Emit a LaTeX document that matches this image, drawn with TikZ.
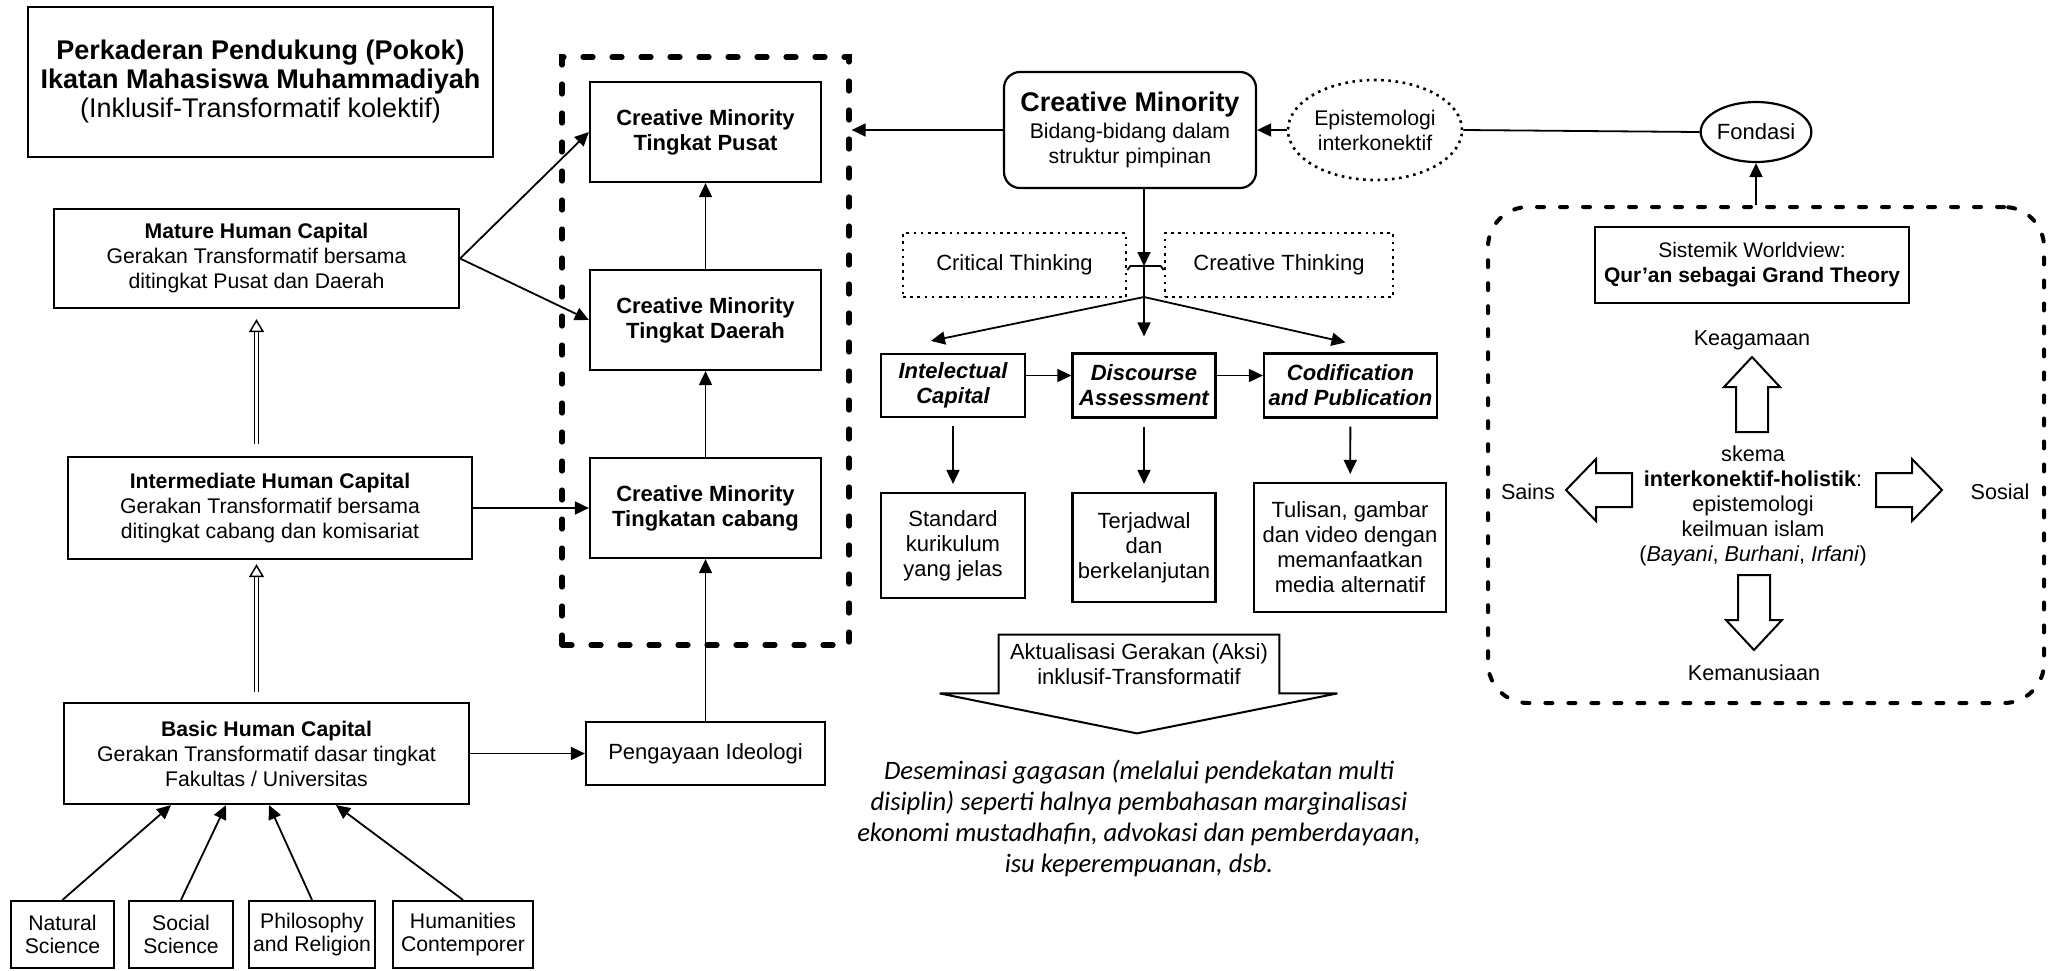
\documentclass[tikz,border=0pt]{standalone}
\usepackage{fontspec}
\setmainfont{Liberation Sans}
\newfontfamily\calibri{Carlito}
\usepackage{tikz}
\usetikzlibrary{shapes,arrows.meta,positioning,calc}

\tikzset{
  box/.style={draw, line width=1.1pt, align=center, inner sep=1pt,
    font=\fontsize{11}{12.5}\selectfont},
  leftbox/.style={box, font=\fontsize{10.6}{12.5}\selectfont},
  cmbox/.style={box, font=\fontsize{11}{12.5}\selectfont\bfseries},
  dotbox/.style={draw, line width=1.3pt, dash pattern=on 1.3pt off 2.3pt,
    align=center, font=\fontsize{11}{12.5}\selectfont},
  bigdash/.style={draw, line width=2.6pt, line cap=round, dash pattern=on 5pt off 9.5pt},
  rounddash/.style={draw, line width=2pt, line cap=round, dash pattern=on 3.5pt off 8pt,
    rounded corners=20pt},
  txt/.style={align=center, font=\fontsize{10.8}{12.5}\selectfont},
  arr/.style={line width=0.9pt, -{Triangle[length=7pt,width=6.5pt]}},
  hollow/.style={double, double distance=1.4pt, line width=0.75pt,
    -{Triangle[open,length=6.5pt,width=7.5pt]}},
  blockarr/.style={line width=1pt, line join=miter}
}

\begin{document}
\begin{tikzpicture}[x=0.5pt, y=-0.5pt]
\useasboundingbox (0,0) rectangle (2055,970);

% Left column
\node[box, font=\fontsize{13.5}{14.5}\selectfont, minimum width=232.5pt, minimum height=75pt] (title) at (260.5,82)
  {\textbf{Perkaderan Pendukung (Pokok)}\\\textbf{Ikatan Mahasiswa Muhammadiyah}\\(Inklusif-Transformatif kolektif)};
\node[leftbox, minimum width=202.5pt, minimum height=49.5pt] (mature) at (256.5,258.5)
  {\textbf{Mature Human Capital}\\Gerakan Transformatif bersama\\ditingkat Pusat dan Daerah};
\node[leftbox, minimum width=202pt, minimum height=51pt] (inter) at (270,508)
  {\textbf{Intermediate Human Capital}\\Gerakan Transformatif bersama\\ditingkat cabang dan komisariat};
\node[leftbox, minimum width=202.5pt, minimum height=50.5pt] (basic) at (266.5,753.5)
  {\textbf{Basic Human Capital}\\Gerakan Transformatif dasar tingkat\\Fakultas / Universitas};

% Disciplines
\node[leftbox, font=\fontsize{10.6}{11.5}\selectfont, minimum width=51.5pt, minimum height=33.5pt] (natural) at (62.5,934.5) {Natural\\Science};
\node[leftbox, font=\fontsize{10.6}{11.5}\selectfont, minimum width=52pt, minimum height=33.5pt] (social) at (181,934.5) {Social\\Science};
\node[leftbox, font=\fontsize{10.6}{11.5}\selectfont, minimum width=63pt, minimum height=33.5pt] (philo) at (312,934.5) {Philosophy\\and Religion};
\node[leftbox, font=\fontsize{10.6}{11.5}\selectfont, minimum width=70pt, minimum height=33.5pt] (human) at (463,934.5) {Humanities\\Contemporer};

\draw[arr] (natural.north) -- ($(basic.south)+(-95.5,0)$);
\draw[arr] (social.north) -- ($(basic.south)+(-40.5,0)$);
\draw[arr] (philo.north) -- ($(basic.south)+(2.5,0)$);
\draw[arr] (human.north) -- ($(basic.south)+(69.5,0)$);

\draw[hollow, shorten <=5pt, shorten >=2pt] (mature.south |- basic.north) -- (mature.south |- inter.south);
\draw[hollow, shorten <=6pt, shorten >=5pt] (mature.south |- inter.north) -- (mature.south);

% Creative minority levels
\node[bigdash, minimum width=143.5pt, minimum height=294pt] (group) at (705.5,351) {};
\node[cmbox, minimum width=115.5pt, minimum height=50pt] (pusat) at (705.5,132) {Creative Minority\\Tingkat Pusat};
\node[cmbox, minimum width=115.5pt, minimum height=50pt] (daerah) at (705.5,320) {Creative Minority\\Tingkat Daerah};
\node[cmbox, minimum width=115.5pt, minimum height=50pt] (cabang) at (705.5,508) {Creative Minority\\Tingkatan cabang};
\node[box, minimum width=119.5pt, minimum height=31.5pt] (ideo) at (705.5,753.5) {Pengayaan Ideologi};

\draw[arr] (mature.east) -- (pusat.west);
\draw[arr] (mature.east) -- (daerah.west);
\draw[arr] (inter.east) -- (cabang.west);
\draw[arr] (basic.east) -- (ideo.west);
\draw[arr] (ideo) -- (cabang);
\draw[arr] (cabang) -- (daerah);
\draw[arr] (daerah) -- (pusat);

% Creative minority structure
\node[box, font=\fontsize{10.6}{12.5}\selectfont, rounded corners=8pt, minimum width=126pt, minimum height=58pt] (cm) at (1130,130)
  {{\fontsize{13.5}{15}\selectfont\bfseries Creative Minority}\\[1pt]Bidang-bidang dalam\\struktur pimpinan};
\node[dotbox, font=\fontsize{10.6}{12.5}\selectfont, ellipse, inner sep=0pt, minimum width=87pt, minimum height=50pt] (epi) at (1375,130) {Epistemologi\\interkonektif};
\node[box, ellipse, inner sep=0pt, minimum width=55pt, minimum height=30pt] (fondasi) at (1756,132) {Fondasi};

\draw[arr] (cm.west) -- (cm.west -| group.east);
\draw[arr] (epi.west) -- (cm.east);
\draw[line width=0.9pt] (fondasi.west) -- (epi.east);

\node[dotbox, minimum width=111.5pt, minimum height=32pt] (crit) at (1014.5,265) {Critical Thinking};
\node[dotbox, minimum width=114pt, minimum height=32pt] (creat) at (1279,265) {Creative Thinking};
\coordinate (bar) at (1144,266);
\coordinate (split) at (1144,297);

\draw[line width=0.9pt] ($(crit.east)+(0,5)$) -- ($(crit.east)+(3,1)$) -- ($(creat.west)+(-3,1)$) -- ($(creat.west)+(0,5)$);
\draw[arr] (cm.south -| bar) -- (bar);
\draw[line width=0.9pt] (bar) -- (split);

\node[box, font=\fontsize{11}{12.5}\selectfont\bfseries\itshape, minimum width=72pt, minimum height=31.5pt] (intel) at (953,385.5) {Intelectual\\Capital};
\node[box, font=\fontsize{11}{12.5}\selectfont\bfseries\itshape, minimum width=71.5pt, minimum height=32pt] (disc) at (1144,385.5) {Discourse\\Assessment};
\node[box, font=\fontsize{11}{12.5}\selectfont\bfseries\itshape, minimum width=86.5pt, minimum height=32pt] (cod) at (1350.5,385.5) {Codification\\and Publication};

\draw[arr] (split) -- ([xshift=-11pt,yshift=6pt]intel.north);
\draw[arr] (split) -- ($(split |- disc.north)+(0,-16)$);
\draw[arr] (split) -- ([xshift=-2.5pt,yshift=5pt]cod.north);
\draw[arr] ([yshift=5pt]intel.east) -- ([yshift=5pt]disc.west);
\draw[arr] ([yshift=5pt]disc.east) -- ([yshift=5pt]cod.west);

\node[box, minimum width=72pt, minimum height=52.5pt] (std) at (953,545.5) {Standard\\kurikulum\\yang jelas};
\node[box, minimum width=71.5pt, minimum height=54.5pt] (jadwal) at (1144,547.5) {Terjadwal\\dan\\berkelanjutan};
\node[box, minimum width=96pt, minimum height=64.5pt] (tulis) at (1350,547.5) {Tulisan, gambar\\dan video dengan\\memanfaatkan\\media alternatif};

\draw[arr, shorten <=4pt, shorten >=4pt] (intel) -- (std);
\draw[arr, shorten <=4pt, shorten >=4pt] (disc) -- (jadwal);
\draw[arr, shorten <=4pt, shorten >=4pt] (cod) -- (tulis);

% Action arrow
\node[align=center, font=\fontsize{11}{12.5}\selectfont, minimum width=140pt, minimum height=29pt] (akt) at (1139,664) {Aktualisasi Gerakan (Aksi)\\inklusif-Transformatif};
\draw[line width=1pt] (akt.south west) -- (akt.north west) -- (akt.north east) -- (akt.south east)
  -- ++(58,0) -- ($(akt.south)+(-2,40)$) -- ($(akt.south west)+(-59,0)$) -- cycle;

\node[align=center, font=\calibri\itshape\fontsize{13.3}{15.5}\selectfont] (desem) at (1139,818)
  {Deseminasi gagasan (melalui pendekatan multi\\disiplin) seperti halnya pembahasan marginalisasi\\ekonomi mustadhafin, advokasi dan pemberdayaan,\\isu keperempuanan, dsb.};

% Foundation
\node[rounddash, minimum width=278pt, minimum height=248pt] (found) at (1766,455) {};
\draw[arr] (fondasi.south |- found.north) -- (fondasi.south);

\node[box, font=\fontsize{10.5}{12.5}\selectfont, minimum width=157pt, minimum height=38pt] (sist) at (1752,265) {Sistemik Worldview:\\\textbf{Qur’an sebagai Grand Theory}};
\node[txt] (keag) at (1752,340) {Keagamaan};
\node[txt] (sains) at (1528,492) {Sains};
\node[txt] (sosial) at (2000,492) {Sosial};
\node[txt] (kemanus) at (1754,673) {Kemanusiaan};
\node[txt] (skema) at (1753,506) {skema\\\textbf{interkonektif-holistik}:\\epistemologi\\keilmuan islam\\(\textit{Bayani}, \textit{Burhani}, \textit{Irfani})};

% Block arrows
\draw[blockarr] (1736,432) -- (1736,387) -- (1724,387) -- (1752,357) -- (1780,387) -- (1768,387) -- (1768,432) -- cycle;
\draw[blockarr] (1738,575) -- (1738,620) -- (1726,620) -- (1754,650) -- (1782,620) -- (1770,620) -- (1770,575) -- cycle;
\draw[blockarr] (1632,473) -- (1596,473) -- (1596,459) -- (1566,490) -- (1596,521) -- (1596,507) -- (1632,507) -- cycle;
\draw[blockarr] (1876,473) -- (1912,473) -- (1912,459) -- (1942,490) -- (1912,521) -- (1912,507) -- (1876,507) -- cycle;

\end{tikzpicture}
\end{document}
